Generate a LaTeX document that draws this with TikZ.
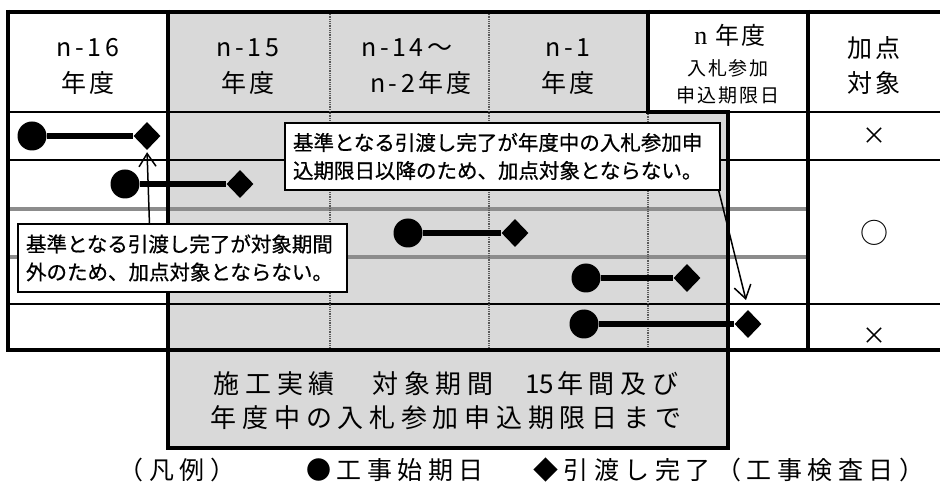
\documentclass[tikz,border=0pt]{standalone}
\usepackage{fontspec}
\newfontfamily\jp{Noto Sans CJK JP}
\newfontfamily\jpC[FakeBold=0.7]{Noto Sans CJK JP}
\newfontfamily\jpH[LetterSpace=14]{Noto Sans CJK JP}
\newfontfamily\jpL[LetterSpace=22]{Noto Sans CJK JP}
\newfontfamily\jpS[LetterSpace=10]{Noto Sans CJK JP}
\newfontfamily\sern{Liberation Serif}
\usetikzlibrary{arrows.meta,shapes.geometric,calc}
\definecolor{bgGray}{RGB}{217,217,217}
\definecolor{sepGray}{RGB}{140,140,140}
\begin{document}
\begin{tikzpicture}[x=1pt,y=-1pt,
  thickln/.style={line width=4pt},
  thinln/.style={line width=1.8pt},
  grayln/.style={draw=sepGray,line width=3.2pt},
  dotln/.style={draw=black!65,line width=1.6pt,dash pattern=on 1pt off 0.8pt},
  hdr/.style={font=\jpH\fontsize{25}{28}\selectfont,inner sep=0pt},
  hdrsmall/.style={font=\jpS\fontsize{19}{22}\selectfont,inner sep=0pt},
  startpt/.style={circle,fill=black,minimum size=29pt,inner sep=0pt},
  endpt/.style={diamond,fill=black,minimum width=27pt,minimum height=28pt,inner sep=0pt},
  barln/.style={line width=6pt},
  callout/.style={draw=black,fill=white,line width=1.5pt,inner xsep=8pt,inner ysep=4pt,align=left,font=\jpC\fontsize{20.5}{28}\selectfont},
  arr/.style={line width=1.5pt,-{Straight Barb[length=13pt,width=17pt,line width=1.5pt]}},
  judge/.style={font=\jp\fontsize{24}{26}\selectfont,inner sep=0pt},
  boxtxt/.style={font=\jpL\fontsize{26}{34}\selectfont,align=center,inner sep=0pt},
  legendtxt/.style={font=\jpL\fontsize{25}{28}\selectfont,inner sep=0pt}
]
\useasboundingbox (0,0) rectangle (940,486);
% gray shaded region
\fill[bgGray] (168,12) -- (648,12) -- (648,112) -- (728,112) -- (728,448) -- (168,448) -- cycle;
% thin row lines
\draw[thinln] (8,112) -- (648,112);
\draw[thinln] (728,112) -- (940,112);
\draw[thinln] (8,160) -- (940,160);
\draw[grayln] (8,209) -- (808,209);
\draw[grayln] (8,257) -- (808,257);
\draw[thinln] (8,304) -- (940,304);
% dotted column lines
\draw[dotln] (330,12) -- (330,350);
\draw[dotln] (489,12) -- (489,350);
\draw[dotln] (648,112) -- (648,350);
% thick frame
\draw[thickln] (8,12) -- (940,12);
\draw[thickln] (8,10) -- (8,352);
\draw[thickln] (6,350) -- (940,350);
\draw[thickln] (168,10) -- (168,450);
\draw[thickln] (648,10) -- (648,112) -- (728,112) -- (728,450);
\draw[thickln] (166,448) -- (730,448);
\draw[thickln] (808,10) -- (808,352);
% headers
\node[hdr] (h1a) at (88,48) {n-16};
\node[hdr] (h1b) at (88,83) {年度};
\node[hdr] (h2a) at (248,48) {n-15};
\node[hdr] (h2b) at (248,83) {年度};
\node[hdr] (h3a) at (407,48) {n-14～};
\node[hdr] (h3b) at (421,83) {n-2年度};
\node[hdr] (h4a) at (568,48) {n-1};
\node[hdr] (h4b) at (568,83) {年度};
\node[font=\jpS\fontsize{24}{26}\selectfont,inner sep=0pt] (h5a) at (730,35) {{\sern\fontsize{26}{26}\selectfont n} 年度};
\node[hdrsmall] (h5b) at (728,68) {入札参加};
\node[hdrsmall] (h5c) at (728,95) {申込期限日};
\node[hdr] (h6a) at (874,48) {加点};
\node[hdr] (h6b) at (874,83) {対象};
% judgements
\node[judge] (j1) at (874,136) {×};
\node[judge,font=\jp\fontsize{28}{30}\selectfont] (j2) at (874,233) {○};
\node[judge] (j3) at (874,336) {×};
% bars
\node[startpt] (s1) at (32,136) {};
\node[endpt] (e1) at (147,136) {};
\draw[barln] (s1) -- (e1);
\node[startpt] (s2) at (125,184) {};
\node[endpt] (e2) at (240,184) {};
\draw[barln] (s2) -- (e2);
\node[startpt] (s3) at (408,233) {};
\node[endpt] (e3) at (515,233) {};
\draw[barln] (s3) -- (e3);
\node[startpt] (s4) at (586,278) {};
\node[endpt] (e4) at (687,278) {};
\draw[barln] (s4) -- (e4);
\node[startpt] (s5) at (584,324) {};
\node[endpt] (e5) at (748,324) {};
\draw[barln] (s5) -- (e5);
% callouts
\node[callout,text width=419pt,minimum height=67pt] (c1) at (502.5,156.5)
  {基準となる引渡し完了が年度中の入札参加申\\込期限日以降のため、加点対象とならない。};
\node[callout,text width=313pt,minimum height=68pt] (c2) at (182.5,258)
  {基準となる引渡し完了が対象期間\\外のため、加点対象とならない。};
\coordinate (t1) at (746,300);
\draw[arr] ([xshift=-2pt]c1.south east) -- (t1);
\draw[arr,shorten >=2pt] ($(c2.north west)!0.40!(c2.north east)$) -- (e1.south);
% lower box text
\node[boxtxt] (bx) at (446,401) {施工実績　対象期間　{\jp\fontsize{26}{34}\selectfont 15}\kern3pt 年間及び\\年度中の入札参加申込期限日まで};
% legend
\node[legendtxt] (lg1) at (177,470) {（凡例）};
\node[legendtxt,anchor=west] (lg2) at (306,470) {●工事始期日};
\node[legendtxt,anchor=west] (lg3) at (533,470) {◆引渡し完了（工事検査日）};
\end{tikzpicture}
\end{document}
